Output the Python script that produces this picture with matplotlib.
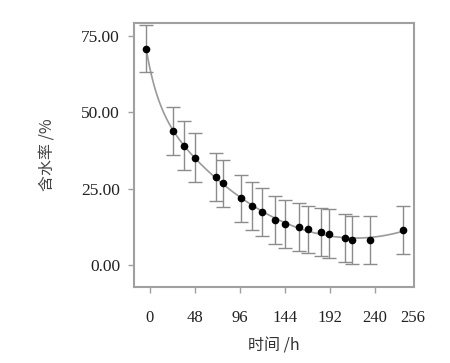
import numpy as np
import matplotlib.pyplot as plt

# values
time_h = [-4, 25, 36, 48, 70, 78, 97, 109, 119, 133, 144, 159, 169, 182, 191, 208, 216, 235, 270]
moisture = [70.8, 44.0, 39.1, 35.1, 28.9, 26.8, 21.8, 19.3, 17.4, 14.7, 13.5, 12.4, 11.7,
            10.9, 10.3, 8.8, 8.3, 8.1, 11.5]
moisture_err = [7.7, 7.8, 8.0, 8.0, 7.9, 7.7, 7.8, 7.8, 7.8, 7.9, 7.9, 7.8, 7.8,
                7.8, 7.9, 7.8, 7.8, 7.9, 7.9]
xtick_pos = [0, 48, 96, 144, 192, 240, 280.5]
xtick_labels = ['0', '48', '96', '144', '192', '240', '256']
ytick_pos = [0, 25, 50, 75]
ytick_labels = ['0.00', '25.00', '50.00', '75.00']

plt.rcParams['font.family'] = ['Liberation Serif', 'Noto Sans CJK SC']

fig = plt.figure(figsize=(4.5, 3.63), dpi=100)
ax = fig.add_axes([0.2978, 0.2102, 0.6222, 0.7273])

# trend curve: a*exp(-b*t) + c + d*t + e*t^2, least squares with b picked on a grid
t = np.array(time_h, float)
y = np.array(moisture, float)
best = None
for b in np.linspace(0.005, 0.08, 300):
    A = np.column_stack([np.exp(-b * t), np.ones_like(t), t, t ** 2])
    c, res, *_ = np.linalg.lstsq(A, y, rcond=None)
    err = np.sum((A @ c - y) ** 2)
    if best is None or err < best[0]:
        best = (err, b, c)
_, b, c = best
xs = np.linspace(t[0], t[-1], 300)
fit = np.column_stack([np.exp(-b * xs), np.ones_like(xs), xs, xs ** 2]) @ c
ax.plot(xs, fit, color='#9a9a9a', lw=1.2, zorder=1)

ax.errorbar(time_h, moisture, yerr=moisture_err, fmt='none', ecolor='#8c8c8c',
            elinewidth=1.0, capsize=4.7, capthick=1.0, zorder=2)
ax.plot(time_h, moisture, 'o', color='black', ms=4.5, zorder=3)

ax.set_xlim(-17, 281.6)
ax.set_ylim(-7.1, 79.4)
ax.set_xticks(xtick_pos)
ax.set_xticklabels(xtick_labels)
ax.set_yticks(ytick_pos)
ax.set_yticklabels(ytick_labels)
ax.xaxis.get_major_ticks()[-1].tick1line.set_visible(False)

for s in ax.spines.values():
    s.set_color('#a0a0a0')
    s.set_linewidth(1.5)
ax.tick_params(axis='both', colors='#a0a0a0', labelcolor='#222222',
               length=4, width=1.0)
ax.tick_params(axis='x', pad=13, labelsize=12)
ax.tick_params(axis='y', pad=6, labelsize=12.5)

ax.set_xlabel('时间 /h', family=['Noto Sans CJK SC', 'Liberation Serif'],
              fontsize=11.5, color='#333333', labelpad=8)
ax.set_ylabel('含水率 /%', family=['Noto Sans CJK SC', 'Liberation Serif'],
              fontsize=11.5, color='#444444', labelpad=18)

fig.savefig('out.png', dpi=100)
